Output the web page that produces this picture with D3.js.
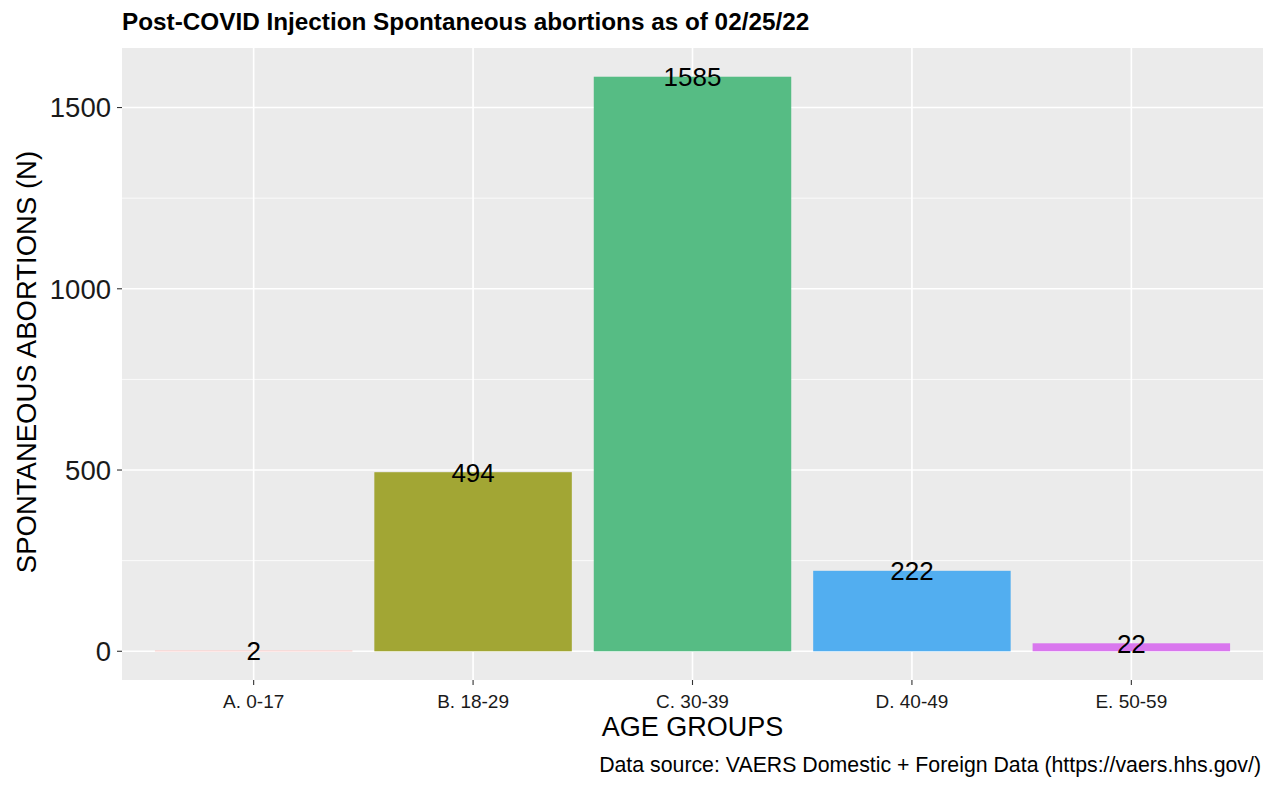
<!DOCTYPE html>
<html><head><meta charset="utf-8">
<script src="https://cdn.jsdelivr.net/npm/d3@7"></script>
<style>
body{margin:0;background:#fff;}
text{font-family:"Liberation Sans",Arial,sans-serif;}
</style></head>
<body><svg id="chart" width="1276" height="788"></svg>
<script>
const categories = ["A. 0-17","B. 18-29","C. 30-39","D. 40-49","E. 50-59"];
const values = [2, 494, 1585, 222, 22];
const colors = ["#F8766D","#A2A634","#56BC84","#52AEF0","#D977EE"];
const yTicks = [0, 500, 1000, 1500];
const yMinor = [250, 750, 1250];

const svg = d3.select("#chart");
const L = 122, R = 1263, T = 48, B = 680;
const maxV = d3.max(values);
const y = d3.scaleLinear().domain([-0.05*maxV, 1.05*maxV]).range([B, T]);
const n = categories.length;
const x = d3.scaleLinear().domain([0.4, n + 0.6]).range([L, R]);
const cx = i => x(i + 1);
const bw = x(1.9) - x(1);

svg.append("rect").attr("x", L).attr("y", T).attr("width", R - L).attr("height", B - T).attr("fill", "#EBEBEB");

svg.selectAll(".ymin").data(yMinor).enter().append("line")
  .attr("x1", L).attr("x2", R).attr("y1", d => y(d)).attr("y2", d => y(d))
  .attr("stroke", "#fff").attr("stroke-width", 0.8);
svg.selectAll(".ymaj").data(yTicks).enter().append("line")
  .attr("x1", L).attr("x2", R).attr("y1", d => y(d)).attr("y2", d => y(d))
  .attr("stroke", "#fff").attr("stroke-width", 1.6);
svg.selectAll(".xmaj").data(categories).enter().append("line")
  .attr("x1", (d, i) => cx(i)).attr("x2", (d, i) => cx(i)).attr("y1", T).attr("y2", B)
  .attr("stroke", "#fff").attr("stroke-width", 1.6);

svg.selectAll(".bar").data(values).enter().append("rect")
  .attr("x", (d, i) => cx(i) - bw / 2).attr("width", bw)
  .attr("y", d => y(d)).attr("height", d => Math.max(y(0) - y(d), 0.8))
  .attr("fill", (d, i) => colors[i]).attr("opacity", (d, i) => i === 0 ? 0.45 : 1);

svg.selectAll(".lab").data(values).enter().append("text")
  .attr("x", (d, i) => cx(i)).attr("y", d => y(d)).attr("dy", "0.36em")
  .attr("text-anchor", "middle").attr("font-size", 26).attr("fill", "#000")
  .text(d => d);

svg.selectAll(".yt").data(yTicks).enter().append("line")
  .attr("x1", L - 5).attr("x2", L).attr("y1", d => y(d)).attr("y2", d => y(d))
  .attr("stroke", "#333").attr("stroke-width", 1.1);
svg.selectAll(".ytl").data(yTicks).enter().append("text")
  .attr("x", L - 11).attr("y", d => y(d)).attr("dy", "0.36em")
  .attr("text-anchor", "end").attr("font-size", 27.5).attr("fill", "#1a1a1a")
  .text(d => d);

svg.selectAll(".xt").data(categories).enter().append("line")
  .attr("x1", (d, i) => cx(i)).attr("x2", (d, i) => cx(i)).attr("y1", B).attr("y2", B + 5)
  .attr("stroke", "#333").attr("stroke-width", 1.1);
svg.selectAll(".xtl").data(categories).enter().append("text")
  .attr("x", (d, i) => cx(i)).attr("y", 708)
  .attr("text-anchor", "middle").attr("font-size", 19).attr("fill", "#1a1a1a")
  .text(d => d);

svg.append("text").attr("x", L).attr("y", 30).attr("font-size", 24.3).attr("font-weight", "bold")
  .attr("fill", "#000").text("Post-COVID Injection Spontaneous abortions as of 02/25/22");
svg.append("text").attr("x", (L + R) / 2).attr("y", 736).attr("text-anchor", "middle")
  .attr("font-size", 27).attr("fill", "#000").text("AGE GROUPS");
svg.append("text").attr("transform", `translate(36,${(T + B) / 2 - 2}) rotate(-90)`)
  .attr("text-anchor", "middle").attr("font-size", 27.5).attr("fill", "#000")
  .text("SPONTANEOUS ABORTIONS (N)");
svg.append("text").attr("x", R - 2).attr("y", 772).attr("text-anchor", "end")
  .attr("font-size", 21.3).attr("fill", "#000")
  .text("Data source: VAERS Domestic + Foreign Data (https://vaers.hhs.gov/)");
</script></body></html>
